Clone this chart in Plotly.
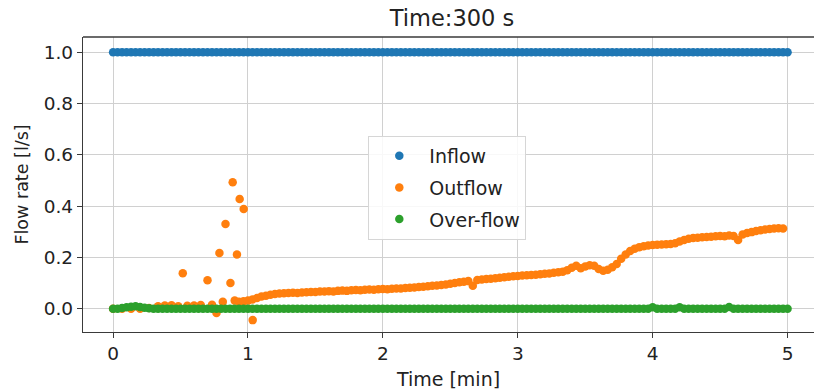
import plotly.graph_objects as go

# ---- data (time in seconds, flow in l/s) ----
grid_s = list(range(0, 301, 2))  # sampling grid for inflow / over-flow

inflow = [1.0] * len(grid_s)  # constant 1.0 l/s

overflow = [
    0.0, 0.0, 0.003, 0.006, 0.008, 0.010, 0.007, 0.004, 0.002, 0.0,
    0.0, 0.0, 0.0, 0.0, 0.0, 0.0, 0.0, 0.0, 0.0, 0.0,
    0.0, 0.0, 0.0, 0.0, 0.0, 0.0, 0.0, 0.0, 0.0, 0.0,
    0.0, 0.0, 0.0, 0.0, 0.0, 0.0, 0.0, 0.0, 0.0, 0.0,
    0.0, 0.0, 0.0, 0.0, 0.0, 0.0, 0.0, 0.0, 0.0, 0.0,
    0.0, 0.0, 0.0, 0.0, 0.0, 0.0, 0.0, 0.0, 0.0, 0.0,
    0.0, 0.0, 0.0, 0.0, 0.0, 0.0, 0.0, 0.0, 0.0, 0.0,
    0.0, 0.0, 0.0, 0.0, 0.0, 0.0, 0.0, 0.0, 0.0, 0.0,
    0.0, 0.0, 0.0, 0.0, 0.0, 0.0, 0.0, 0.0, 0.0, 0.0,
    0.0, 0.0, 0.0, 0.0, 0.0, 0.0, 0.0, 0.0, 0.0, 0.0,
    0.0, 0.0, 0.0, 0.0, 0.0, 0.0, 0.0, 0.0, 0.0, 0.0,
    0.0, 0.0, 0.0, 0.0, 0.0, 0.0, 0.0, 0.0, 0.0, 0.0,
    0.006, 0.0, 0.0, 0.0, 0.0, 0.0, 0.006, 0.0, 0.0, 0.0,
    0.0, 0.0, 0.0, 0.0, 0.0, 0.0, 0.0, 0.007, 0.0, 0.0,
    0.0, 0.0, 0.0, 0.0, 0.0, 0.0, 0.0, 0.0, 0.0, 0.0,
    0.0,
]

# scattered start of the outflow (seconds, l/s)
outflow_early_s = [0, 4, 8, 12, 16, 20, 23, 26, 29, 31, 33, 36, 39, 42, 44,
                   46, 47.3, 48.8, 50, 52.2, 53.2, 54.1, 55.1, 56.3, 58.1, 62.1]
outflow_early = [0.0, 0.0, 0.0, 0.0, 0.003, 0.010, 0.013, 0.014, 0.010, 0.139,
                 0.012, 0.013, 0.015, 0.111, 0.016, -0.016, 0.218, 0.028,
                 0.331, 0.101, 0.493, 0.032, 0.212, 0.428, 0.389, -0.044]

# continuous part of the outflow, every 2 s from 56 s to 300 s
outflow_main_s = list(range(56, 301, 2))
outflow_main = [
    0.028, 0.030, 0.032, 0.036, 0.042, 0.048, 0.051, 0.055, 0.058, 0.060,
    0.061, 0.062, 0.063, 0.062, 0.064, 0.065, 0.066, 0.066, 0.068, 0.068,
    0.069, 0.068, 0.070, 0.071, 0.070, 0.072, 0.073, 0.072, 0.074, 0.075,
    0.074, 0.076, 0.077, 0.076, 0.078, 0.079, 0.079, 0.081, 0.082, 0.083,
    0.085, 0.086, 0.088, 0.090, 0.091, 0.093, 0.095, 0.098, 0.101, 0.104,
    0.106, 0.108, 0.090, 0.112, 0.114, 0.116, 0.117, 0.119, 0.121, 0.123,
    0.125, 0.127, 0.128, 0.130, 0.131, 0.132, 0.133, 0.135, 0.137, 0.138,
    0.141, 0.143, 0.145, 0.150, 0.160, 0.168, 0.158, 0.165, 0.170, 0.168,
    0.155, 0.148, 0.152, 0.162, 0.175, 0.195, 0.212, 0.225, 0.234, 0.240,
    0.244, 0.247, 0.249, 0.250, 0.251, 0.252, 0.253, 0.256, 0.262, 0.268,
    0.273, 0.276, 0.277, 0.279, 0.280, 0.281, 0.283, 0.284, 0.283, 0.286,
    0.284, 0.268, 0.290, 0.296, 0.299, 0.303, 0.306, 0.309, 0.311, 0.313,
    0.314, 0.313,
]

x_ticks = [0, 1, 2, 3, 4, 5]
y_ticks = [0.0, 0.2, 0.4, 0.6, 0.8, 1.0]
y_tick_text = ["0.0", "0.2", "0.4", "0.6", "0.8", "1.0"]

# ---- build ----
grid_min = [s / 60 for s in grid_s]
outflow_min = [s / 60 for s in outflow_early_s + outflow_main_s]
outflow_vals = outflow_early + outflow_main

FONT = "DejaVu Sans"
TXT = "#222222"
AX = "#3a3a3a"
MS = 8.5

fig = go.Figure()
fig.add_trace(go.Scatter(x=grid_min, y=inflow, mode="markers", name="Inflow",
                         legendgroup="a",
                         marker=dict(color="#1f77b4", size=MS, line=dict(width=0))))
fig.add_trace(go.Scatter(x=outflow_min, y=outflow_vals, mode="markers", name="Outflow",
                         legendgroup="b",
                         marker=dict(color="#ff7f0e", size=MS, line=dict(width=0))))
fig.add_trace(go.Scatter(x=grid_min, y=overflow, mode="markers", name="Over-flow",
                         legendgroup="c",
                         marker=dict(color="#2ca02c", size=MS, line=dict(width=0))))

fig.update_layout(
    width=814, height=392,
    margin=dict(l=82.5, r=0, t=37, b=59.5),
    paper_bgcolor="white", plot_bgcolor="white",
    font=dict(family=FONT, size=18.5, color=TXT),
    title=dict(text="Time:300 s", x=452 / 814, xref="container", xanchor="center",
               y=1 - 18 / 392, yref="container", yanchor="middle",
               font=dict(family=FONT, size=22.5, color=TXT)),
    legend=dict(x=(368 - 82.5) / 731.5, y=(332.5 - 136) / 295.5,
                xanchor="left", yanchor="top",
                bgcolor="rgba(255,255,255,0.85)", bordercolor="#d6d6d6", borderwidth=1,
                font=dict(family=FONT, size=19, color=TXT),
                itemwidth=50, tracegroupgap=4),
    showlegend=True,
)
fig.update_xaxes(
    range=[-0.223, 5.196], tickmode="array", tickvals=x_ticks,
    ticktext=[str(v) for v in x_ticks],
    showgrid=True, gridcolor="#d0d0d0", gridwidth=1.2,
    showline=True, linecolor=AX, linewidth=1.4, mirror=False,
    ticks="outside", ticklen=5, tickwidth=1.3, tickcolor=AX,
    zeroline=False,
    title=dict(text="Time [min]", font=dict(family=FONT, size=19, color=TXT), standoff=9),
)
fig.update_yaxes(
    range=[-0.0903, 1.0595], tickmode="array", tickvals=y_ticks, ticktext=y_tick_text,
    showgrid=True, gridcolor="#d0d0d0", gridwidth=1.2,
    showline=True, linecolor=AX, linewidth=1.4, mirror=False,
    ticks="outside", ticklen=5, tickwidth=1.3, tickcolor=AX,
    zeroline=False,
    title=dict(text="Flow rate [l/s]", font=dict(family=FONT, size=17.5, color=TXT), standoff=10),
)
# top spine
fig.add_shape(type="line", xref="paper", yref="paper", x0=0, x1=1, y0=1, y1=1,
              line=dict(color=AX, width=1.4))

fig.write_html("out.html")
